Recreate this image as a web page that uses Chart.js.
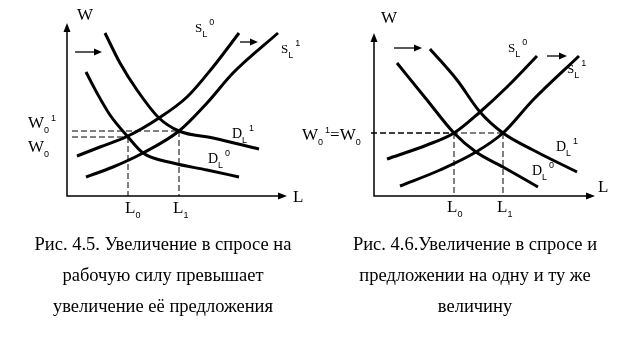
<!DOCTYPE html>
<html>
<head>
<meta charset="utf-8">
<script src="https://cdn.jsdelivr.net/npm/chart.js@4.4.0/dist/chart.umd.min.js"></script>
<style>
  body { margin: 0; background: #fff; width: 620px; height: 350px; overflow: hidden; position: relative; }
  canvas { position: absolute; left: 0; top: 0; }
  .cap { position: absolute; font-family: "Liberation Serif", "Times New Roman", serif; font-size: 18.5px;
         line-height: 31px; text-align: center; color: #000; white-space: nowrap; width: 320px; }
</style>
</head>
<body>
<canvas id="left" width="620" height="230"></canvas>
<canvas id="right" width="620" height="230"></canvas>
<div class="cap" style="left:3px; top:229px">Рис. 4.5. Увеличение в спросе на<br>рабочую силу превышает<br>увеличение её предложения</div>
<div class="cap" style="left:315px; top:229px">Рис. 4.6.Увеличение в спросе и<br>предложении на одну и ту же<br>величину</div>
<script>
// Fig 4.5 — labour (L) and wage (W) curves
const leftS0L = [10, 33, 61, 92, 120, 146, 172];
const leftS0W = [40, 49, 60, 78, 99, 129, 163];
const leftS1L = [19, 46, 76, 112, 140, 166, 211];
const leftS1W = [19, 29, 43, 65, 93, 123, 163];
const leftD0L = [19, 30, 43, 61, 76, 106, 140, 172];
const leftD0W = [124, 103, 81, 59, 43, 33, 26, 19];
const leftD1L = [38, 53, 70, 92, 112, 146, 192];
const leftD1W = [163, 133, 106, 78, 65, 58, 47];
const leftEqL = [61, 112];   // L0, L1
const leftEqW = [59, 65];    // W0, W0^1

// Fig 4.6
const rightS0L = [13, 53, 80, 106, 133, 163];
const rightS0W = [37, 51, 63, 84, 109, 140];
const rightS1L = [26, 66, 102, 129, 159, 205];
const rightS1W = [10, 26, 44, 63, 96, 140];
const rightD0L = [23, 53, 80, 102, 129, 164];
const rightD0W = [133, 96, 63, 44, 29, 9];
const rightD1L = [56, 83, 106, 129, 159, 203];
const rightD1W = [147, 116, 84, 63, 46, 24];
const rightEqL = [80, 129];
const rightEqW = [63, 63];

const pts = (xs, ys) => xs.map((v, i) => ({ x: v, y: ys[i] }));

const FONTS = {
  big: '17px "Liberation Serif", serif',
  mid: '14px "Liberation Serif", serif',
  s: '13px "Liberation Serif", serif',
  sub: '9px "Liberation Sans", sans-serif',
  sup: '9px "Liberation Sans", sans-serif'
};

function drawRich(ctx, x, y, parts) {
  let cx = x;
  ctx.textBaseline = 'alphabetic';
  ctx.textAlign = 'left';
  parts.forEach(([t, k]) => {
    ctx.font = FONTS[k];
    let dy = 0;
    if (k === 'sub') dy = 5;
    if (k === 'sup') { dy = -7; cx += 2; }
    ctx.fillText(t, cx, y + dy);
    cx += ctx.measureText(t).width;
  });
}

function head(ctx, x, y, dx, dy, len, half) {
  ctx.beginPath();
  ctx.moveTo(x, y);
  ctx.lineTo(x - dx * len - dy * half, y - dy * len + dx * half);
  ctx.lineTo(x - dx * len + dy * half, y - dy * len - dx * half);
  ctx.closePath();
  ctx.fill();
}

const decor = {
  id: 'decor',
  afterDatasetsDraw(chart, args, o) {
    const { ctx, scales: { x, y } } = chart;
    const px = v => x.getPixelForValue(v), py = v => y.getPixelForValue(v);
    ctx.save();
    ctx.fillStyle = '#000';
    ctx.strokeStyle = '#000';
    head(ctx, px(0), py(o.wTop), 0, -1, 9, 3.5);
    head(ctx, px(o.lEnd), py(0), 1, 0, 9, 3.5);
    ctx.lineWidth = 1.3;
    o.shifts.forEach(([a, b, w]) => {
      ctx.beginPath();
      ctx.moveTo(px(a), py(w));
      ctx.lineTo(px(b) - 6, py(w));
      ctx.stroke();
      head(ctx, px(b), py(w), 1, 0, 8, 3.5);
    });
    o.labels.forEach(l => drawRich(ctx, px(l.at[0]), py(l.at[1]), l.parts));
    ctx.restore();
  }
};

function curve(data) {
  return { data, showLine: true, borderColor: '#000', borderWidth: 3, pointRadius: 0,
           cubicInterpolationMode: 'monotone', fill: false };
}
function guide(data) {
  return { data, showLine: true, borderColor: '#000', borderWidth: 1, borderDash: [6, 3],
           pointRadius: 0, tension: 0, fill: false };
}

function panel(id, ox, oy, curves, eqL, eqW, guideStart, wTop, lEnd, shifts, labels) {
  const guides = [];
  eqL.forEach((l, i) => {
    guides.push(guide([{ x: guideStart, y: eqW[i] }, { x: l, y: eqW[i] }]));
    guides.push(guide([{ x: l, y: eqW[i] }, { x: l, y: 0 }]));
  });
  const axes = { data: [{ x: 0, y: wTop - 6 }, { x: 0, y: 0 }, { x: lEnd - 6, y: 0 }], showLine: true,
                 borderColor: '#000', borderWidth: 1.5, pointRadius: 0, tension: 0 };
  new Chart(document.getElementById(id), {
    type: 'scatter',
    data: { datasets: [axes, ...guides, ...curves.map(curve)] },
    options: {
      responsive: false, animation: false, devicePixelRatio: 1,
      layout: { padding: 0 },
      scales: {
        x: { type: 'linear', min: -ox, max: 620 - ox, display: false },
        y: { type: 'linear', min: oy - 230, max: oy, display: false }
      },
      plugins: {
        legend: { display: false }, tooltip: { enabled: false },
        decor: { wTop, lEnd, shifts, labels }
      }
    },
    plugins: [decor]
  });
}

panel('left', 67, 196,
  [pts(leftS0L, leftS0W), pts(leftS1L, leftS1W), pts(leftD0L, leftD0W), pts(leftD1L, leftD1W)],
  leftEqL, leftEqW, 5, 173, 220,
  [[8, 35, 144], [173, 191, 154]],
  [
    { at: [10, 176], parts: [['W', 'big']] },
    { at: [226, -6], parts: [['L', 'big']] },
    { at: [58, -17], parts: [['L', 'big'], ['0', 'sub']] },
    { at: [106, -17], parts: [['L', 'big'], ['1', 'sub']] },
    { at: [-39, 68], parts: [['W', 'big'], ['0', 'sub'], ['1', 'sup']] },
    { at: [-39, 44], parts: [['W', 'big'], ['0', 'sub']] },
    { at: [128, 164], parts: [['S', 's'], ['L', 'sub'], ['0', 'sup']] },
    { at: [214, 143], parts: [['S', 's'], ['L', 'sub'], ['1', 'sup']] },
    { at: [165, 58], parts: [['D', 'mid'], ['L', 'sub'], ['1', 'sup']] },
    { at: [141, 33], parts: [['D', 'mid'], ['L', 'sub'], ['0', 'sup']] }
  ]);

panel('right', 374, 196,
  [pts(rightS0L, rightS0W), pts(rightS1L, rightS1W), pts(rightD0L, rightD0W), pts(rightD1L, rightD1W)],
  rightEqL, rightEqW, -3, 163, 221,
  [[20, 48, 148], [173, 193, 140]],
  [
    { at: [7, 173], parts: [['W', 'big']] },
    { at: [224, 4], parts: [['L', 'big']] },
    { at: [73, -16], parts: [['L', 'big'], ['0', 'sub']] },
    { at: [123, -16], parts: [['L', 'big'], ['1', 'sub']] },
    { at: [-72, 56], parts: [['W', 'big'], ['0', 'sub'], ['1', 'sup'], ['=', 'big'], ['W', 'big'], ['0', 'sub']] },
    { at: [134, 144], parts: [['S', 's'], ['L', 'sub'], ['0', 'sup']] },
    { at: [193, 123], parts: [['S', 's'], ['L', 'sub'], ['1', 'sup']] },
    { at: [182, 45], parts: [['D', 'mid'], ['L', 'sub'], ['1', 'sup']] },
    { at: [158, 21], parts: [['D', 'mid'], ['L', 'sub'], ['0', 'sup']] }
  ]);
</script>
</body>
</html>
